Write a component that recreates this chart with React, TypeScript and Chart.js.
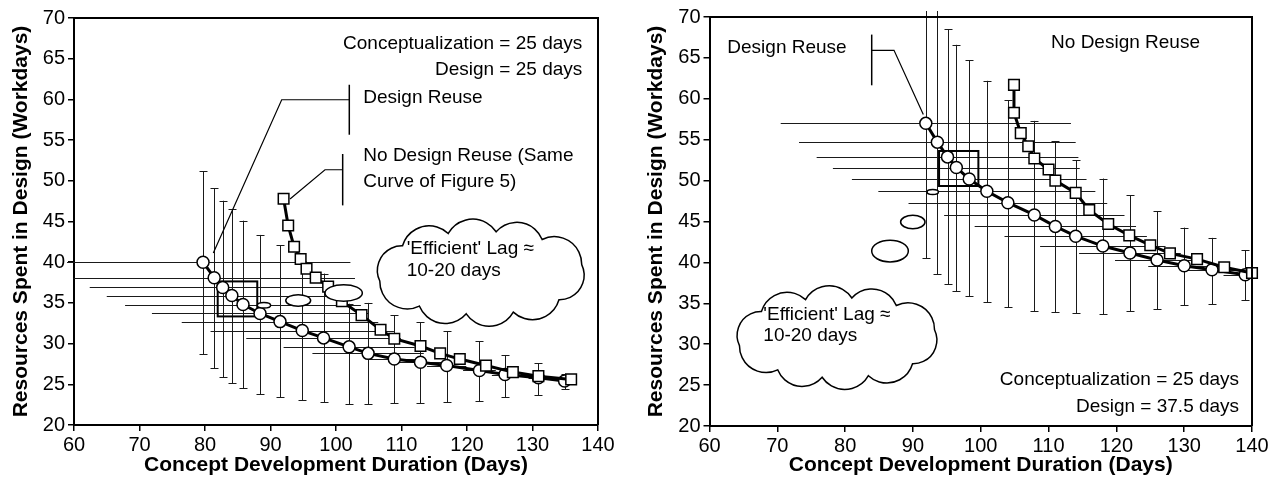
import React, { useEffect, useRef } from "react";
import { Chart, registerables } from "chart.js";
Chart.register(...registerables);

const FONT = "'Liberation Sans', Arial, Helvetica, sans-serif";

// Axis ticks (shared by both panels)
const xTickValues = [60, 70, 80, 90, 100, 110, 120, 130, 140];
const yTickValues = [20, 25, 30, 35, 40, 45, 50, 55, 60, 65, 70];

// ---------- Left panel: Conceptualization = 25 days, Design = 25 days ----------
const leftReuseDays = [79.7, 81.4, 82.7, 84.1, 85.8, 88.4, 91.45, 94.85, 98.1, 102.0, 104.9, 108.9, 112.9, 116.9, 121.9, 125.8, 130.9, 134.9];
const leftReuseRes = [40.0, 38.1, 36.9, 35.9, 34.8, 33.7, 32.7, 31.6, 30.7, 29.6, 28.8, 28.1, 27.7, 27.3, 26.7, 26.2, 25.8, 25.4];
const leftReuseResLow = [28.7, 27.0, 25.9, 25.2, 24.5, 23.85, 23.4, 23.1, 22.8, 22.6, 22.6, 22.7, 22.7, 22.8, 23.0, 23.5, 23.7, 24.4];
const leftReuseResHigh = [51.2, 49.1, 47.55, 46.5, 45.1, 43.35, 42.1, 40.1, 38.6, 34.9, 35.0, 33.5, 32.65, 31.5, 30.3, 28.6, 27.6, 26.3];
const leftReuseDaysErr = [22.5, 21.5, 20.3, 19.1, 18, 16.5, 15, 14, 11.8, 10, 8.5, 4, 3.5, 3, 2.5, 2, 1.5, 1];
const leftNoReuseDays = [92.0, 92.7, 93.6, 94.6, 95.5, 96.9, 98.8, 100.9, 103.9, 106.8, 108.9, 112.9, 115.9, 118.9, 122.9, 127.0, 130.9, 135.9];
const leftNoReuseRes = [47.8, 44.5, 41.9, 40.4, 39.2, 38.1, 37.0, 35.2, 33.5, 31.7, 30.6, 29.7, 28.8, 28.1, 27.3, 26.5, 26.0, 25.6];

// ---------- Right panel: Conceptualization = 25 days, Design = 37.5 days ----------
const rightReuseDays = [91.9, 93.6, 95.1, 96.4, 98.3, 100.9, 104.0, 107.9, 111.0, 114.0, 118.0, 122.0, 126.0, 130.0, 134.1, 139.0];
const rightReuseRes = [57.0, 54.7, 52.9, 51.6, 50.2, 48.7, 47.3, 45.8, 44.4, 43.2, 42.0, 41.15, 40.3, 39.6, 39.1, 38.5];
const rightReuseResLow = [40.5, 38.55, 37.3, 36.5, 35.85, 35.1, 34.6, 34.1, 33.9, 33.8, 33.75, 34.05, 34.35, 34.75, 34.95, 35.45];
const rightReuseResHigh = [73.5, 70.85, 68.5, 66.6, 64.7, 62.2, 59.8, 57.3, 54.8, 52.5, 50.25, 48.2, 46.25, 44.25, 43.0, 41.5];
const rightReuseDaysErr = [21.4, 20.4, 19.3, 18.2, 17.3, 16, 14.65, 13.3, 11.9, 10.5, 9.25, 7.5, 6.2, 5.3, 4, 3.2];
const rightNoReuseDays = [104.9, 104.9, 105.9, 107.0, 107.9, 110.0, 111.0, 114.0, 116.0, 118.8, 121.9, 125.0, 127.9, 131.9, 135.9, 140.0];
const rightNoReuseRes = [61.7, 58.3, 55.8, 54.2, 52.7, 51.35, 50.0, 48.5, 46.4, 44.7, 43.3, 42.1, 41.1, 40.4, 39.4, 38.7];

type TextItem = { x: number; y: number; text: string; align: CanvasTextAlign };
type Callout = { barX: number; barY1: number; barY2: number; elbowY: number; elbowX: number; tipX: number; tipY: number };
type Panel = {
  id: string;
  canvasLeft: number;
  canvasWidth: number;
  area: { left: number; right: number; top: number; bottom: number };
  reuseDays: number[];
  reuseRes: number[];
  reuseLow: number[];
  reuseHigh: number[];
  reuseDaysErr: number[];
  noReuseDays: number[];
  noReuseRes: number[];
  box: [number, number, number, number];
  ellipses: [number, number, number, number][];
  cloud: [number, number, number, number];
  callouts: Callout[];
  texts: TextItem[];
};

const leftPanel: Panel = {
  id: "left",
  canvasLeft: 0,
  canvasWidth: 635,
  area: { left: 74, right: 598, top: 18, bottom: 425 },
  reuseDays: leftReuseDays,
  reuseRes: leftReuseRes,
  reuseLow: leftReuseResLow,
  reuseHigh: leftReuseResHigh,
  reuseDaysErr: leftReuseDaysErr,
  noReuseDays: leftNoReuseDays,
  noReuseRes: leftNoReuseRes,
  box: [81.94, 87.98, 37.64, 33.34],
  ellipses: [
    [101.17, 36.22, 2.85, 1.02],
    [94.23, 35.3, 1.9, 0.71],
    [89.0, 34.72, 1.02, 0.34],
  ],
  cloud: [105.0, 139.2, 44.9, 32.5],
  callouts: [
    { barX: 102.03, barY1: 61.8, barY2: 55.66, elbowY: 59.96, elbowX: 91.71, tipX: 81.27, tipY: 41.13 },
    { barX: 101.02, barY1: 53.29, barY2: 46.98, elbowY: 51.36, elbowX: 98.32, tipX: 92.98, tipY: 47.76 },
  ],
  texts: [
    { x: 137.6, y: 66.8, text: "Conceptualization = 25 days", align: "right" },
    { x: 137.6, y: 63.7, text: "Design = 25 days", align: "right" },
    { x: 104.17, y: 60.17, text: "Design Reuse", align: "left" },
    { x: 104.17, y: 53.08, text: "No Design Reuse (Same", align: "left" },
    { x: 104.17, y: 49.93, text: "Curve of Figure 5)", align: "left" },
    { x: 110.8, y: 41.6, text: "'Efficient' Lag \u2248", align: "left" },
    { x: 110.8, y: 38.9, text: "10-20 days", align: "left" },
  ],
};

const rightPanel: Panel = {
  id: "right",
  canvasLeft: 635,
  canvasWidth: 642,
  area: { left: 74.5, right: 617, top: 17, bottom: 426 },
  reuseDays: rightReuseDays,
  reuseRes: rightReuseRes,
  reuseLow: rightReuseResLow,
  reuseHigh: rightReuseResHigh,
  reuseDaysErr: rightReuseDaysErr,
  noReuseDays: rightNoReuseDays,
  noReuseRes: rightNoReuseRes,
  box: [93.85, 99.65, 53.62, 49.34],
  ellipses: [
    [92.92, 48.6, 0.84, 0.31],
    [89.98, 44.94, 1.8, 0.82],
    [86.62, 41.38, 2.7, 1.32],
  ],
  cloud: [62.8, 94.8, 36.8, 24.8],
  callouts: [
    { barX: 83.92, barY1: 67.85, barY2: 61.65, elbowY: 65.93, elbowX: 87.21, tipX: 91.53, tipY: 58.07 },
  ],
  texts: [
    { x: 62.63, y: 66.2, text: "Design Reuse", align: "left" },
    { x: 110.37, y: 66.8, text: "No Design Reuse", align: "left" },
    { x: 138.1, y: 25.67, text: "Conceptualization = 25 days", align: "right" },
    { x: 138.1, y: 22.4, text: "Design = 37.5 days", align: "right" },
    { x: 67.94, y: 33.62, text: "'Efficient' Lag \u2248", align: "left" },
    { x: 67.94, y: 30.97, text: "10-20 days", align: "left" },
  ],
};

function drawCloud(ctx: CanvasRenderingContext2D, x0: number, x1: number, y0: number, y1: number) {
  const cx = (x0 + x1) / 2;
  const cy = (y0 + y1) / 2;
  const N = 10;
  const hRatio = 0.28;
  const inset = 9;
  const rx = (x1 - x0) / 2 - inset;
  const ry = (y1 - y0) / 2 - inset;
  const M = 720;
  const samples: [number, number][] = [];
  for (let i = 0; i <= M; i++) {
    const a = -Math.PI / 2 + (i / M) * Math.PI * 2 + 0.15;
    samples.push([cx + rx * Math.cos(a), cy + ry * Math.sin(a)]);
  }
  const cum = [0];
  for (let i = 1; i <= M; i++) {
    cum.push(cum[i - 1] + Math.hypot(samples[i][0] - samples[i - 1][0], samples[i][1] - samples[i - 1][1]));
  }
  const P = cum[M];
  const pts: [number, number][] = [];
  let j = 0;
  for (let k = 0; k < N; k++) {
    const target = (k / N) * P;
    while (j < M && cum[j + 1] < target) j++;
    pts.push(samples[j]);
  }
  ctx.beginPath();
  for (let k = 0; k < N; k++) {
    const p = pts[k];
    const q = pts[(k + 1) % N];
    const dx = q[0] - p[0];
    const dy = q[1] - p[1];
    const c = Math.hypot(dx, dy);
    const nx = dy / c;
    const ny = -dx / c;
    const h = hRatio * c;
    const R = (c * c / 4 + h * h) / (2 * h);
    const mx = (p[0] + q[0]) / 2;
    const my = (p[1] + q[1]) / 2;
    const ccx = mx - nx * (R - h);
    const ccy = my - ny * (R - h);
    const aP = Math.atan2(p[1] - ccy, p[0] - ccx);
    const aQ = Math.atan2(q[1] - ccy, q[0] - ccx);
    ctx.arc(ccx, ccy, R, aP, aQ, false);
  }
  ctx.closePath();
  ctx.fillStyle = "#fff";
  ctx.fill();
  ctx.lineWidth = 1.5;
  ctx.strokeStyle = "#000";
  ctx.stroke();
}

function makeDecor(p: Panel) {
  return {
    id: "decor-" + p.id,
    beforeDatasetsDraw(chart: any) {
      const { ctx, chartArea: ca } = chart;
      const X = (v: number) => chart.scales.x.getPixelForValue(v);
      const Y = (v: number) => chart.scales.y.getPixelForValue(v);
      ctx.save();
      ctx.strokeStyle = "#1a1a1a";
      ctx.lineWidth = 1;
      p.reuseDays.forEach((d, i) => {
        const yy = Math.round(Y(p.reuseRes[i])) + 0.5;
        const xa = Math.max(X(d - p.reuseDaysErr[i]), ca.left - 7);
        const xb = Math.min(X(d + p.reuseDaysErr[i]), ca.right);
        ctx.beginPath();
        ctx.moveTo(xa, yy);
        ctx.lineTo(xb, yy);
        ctx.stroke();
      });
      p.reuseDays.forEach((d, i) => {
        const xx = Math.round(X(d)) + 0.5;
        const top = Y(p.reuseHigh[i]);
        const bot = Math.round(Y(p.reuseLow[i])) + 0.5;
        const topC = Math.max(top, ca.top - 6);
        ctx.beginPath();
        ctx.moveTo(xx, topC);
        ctx.lineTo(xx, bot);
        ctx.moveTo(xx - 4, bot);
        ctx.lineTo(xx + 4, bot);
        if (top >= ca.top - 6) {
          const t = Math.round(top) + 0.5;
          ctx.moveTo(xx - 4, t);
          ctx.lineTo(xx + 4, t);
        }
        ctx.stroke();
      });
      const [bx0, bx1, by0, by1] = p.box;
      ctx.lineWidth = 2;
      ctx.strokeStyle = "#000";
      ctx.strokeRect(X(bx0), Y(by0), X(bx1) - X(bx0), Y(by1) - Y(by0));
      ctx.restore();
    },
    afterDatasetsDraw(chart: any) {
      const { ctx, chartArea: ca } = chart;
      const xs = chart.scales.x;
      const ys = chart.scales.y;
      const X = (v: number) => xs.getPixelForValue(v);
      const Y = (v: number) => ys.getPixelForValue(v);
      const pxPerX = Math.abs(X(1) - X(0));
      const pxPerY = Math.abs(Y(1) - Y(0));
      ctx.save();
      p.ellipses.forEach(([ex, ey, erx, ery]) => {
        ctx.beginPath();
        ctx.ellipse(X(ex), Y(ey), erx * pxPerX, ery * pxPerY, 0, 0, Math.PI * 2);
        ctx.fillStyle = "#fff";
        ctx.fill();
        ctx.lineWidth = 1.5;
        ctx.strokeStyle = "#000";
        ctx.stroke();
      });
      const [cx0, cx1, cy0, cy1] = p.cloud;
      drawCloud(ctx, X(cx0), X(cx1), Y(cy0), Y(cy1));
      ctx.strokeStyle = "#000";
      p.callouts.forEach((c) => {
        ctx.lineWidth = 1.5;
        ctx.beginPath();
        ctx.moveTo(X(c.barX), Y(c.barY1));
        ctx.lineTo(X(c.barX), Y(c.barY2));
        ctx.stroke();
        ctx.lineWidth = 1.2;
        ctx.beginPath();
        ctx.moveTo(X(c.barX), Y(c.elbowY));
        ctx.lineTo(X(c.elbowX), Y(c.elbowY));
        ctx.lineTo(X(c.tipX), Y(c.tipY));
        ctx.stroke();
      });
      ctx.fillStyle = "#000";
      ctx.font = `19px ${FONT}`;
      ctx.textBaseline = "middle";
      p.texts.forEach((t) => {
        ctx.textAlign = t.align;
        ctx.fillText(t.text, X(t.x), Y(t.y));
      });
      ctx.lineWidth = 2;
      ctx.strokeStyle = "#000";
      ctx.beginPath();
      ctx.moveTo(ca.left, ca.top);
      ctx.lineTo(ca.right, ca.top);
      ctx.lineTo(ca.right, ca.bottom);
      ctx.stroke();
      ctx.restore();
    },
  };
}

function buildConfig(p: Panel): any {
  const H = 489;
  const tickFont = { family: FONT, size: 20 };
  const titleFont = { family: FONT, size: 21, weight: "bold" as const };
  return {
    type: "scatter",
    data: {
      datasets: [
        {
          label: "No Design Reuse",
          data: p.noReuseDays.map((d, i) => ({ x: d, y: p.noReuseRes[i] })),
          showLine: true,
          borderColor: "#000",
          borderWidth: 3,
          pointStyle: "rect",
          pointRadius: 7.5,
          pointBackgroundColor: "#fff",
          pointBorderColor: "#000",
          pointBorderWidth: 1.5,
          clip: false,
        },
        {
          label: "Design Reuse",
          data: p.reuseDays.map((d, i) => ({ x: d, y: p.reuseRes[i] })),
          showLine: true,
          borderColor: "#000",
          borderWidth: 3,
          pointStyle: "circle",
          pointRadius: 6,
          pointBackgroundColor: "#fff",
          pointBorderColor: "#000",
          pointBorderWidth: 1.5,
          clip: false,
        },
      ],
    },
    options: {
      responsive: false,
      animation: false,
      devicePixelRatio: 1,
      events: [],
      layout: {
        padding: { left: 0, top: p.area.top, right: p.canvasWidth - p.area.right, bottom: 0 },
      },
      plugins: { legend: { display: false }, tooltip: { enabled: false }, title: { display: false } },
      scales: {
        x: {
          type: "linear",
          min: xTickValues[0],
          max: xTickValues[xTickValues.length - 1],
          ticks: { stepSize: xTickValues[1] - xTickValues[0], font: tickFont, color: "#000", padding: 2 },
          grid: { display: true, drawOnChartArea: false, drawTicks: true, tickLength: 6, color: "#000", lineWidth: 1.5 },
          border: { display: true, color: "#000", width: 2 },
          title: {
            display: true,
            text: "Concept Development Duration (Days)",
            font: titleFont,
            color: "#000",
            padding: { top: 0, bottom: 11 },
          },
          afterFit: (s: any) => {
            s.height = H - p.area.bottom;
          },
        },
        y: {
          type: "linear",
          min: yTickValues[0],
          max: yTickValues[yTickValues.length - 1],
          ticks: { stepSize: yTickValues[1] - yTickValues[0], font: tickFont, color: "#000", padding: 3 },
          grid: { display: true, drawOnChartArea: false, drawTicks: true, tickLength: 6, color: "#000", lineWidth: 1.5 },
          border: { display: true, color: "#000", width: 2 },
          title: {
            display: true,
            text: "Resources Spent in Design (Workdays)",
            font: titleFont,
            color: "#000",
            padding: { top: 9, bottom: 0 },
          },
          afterFit: (s: any) => {
            s.width = p.area.left;
          },
        },
      },
    },
    plugins: [makeDecor(p)],
  };
}

function PanelChart({ panel }: { panel: Panel }) {
  const ref = useRef<HTMLCanvasElement>(null);
  useEffect(() => {
    if (!ref.current) return;
    const chart = new Chart(ref.current, buildConfig(panel));
    return () => chart.destroy();
  }, [panel]);
  return (
    <canvas
      ref={ref}
      width={panel.canvasWidth}
      height={489}
      style={{ position: "absolute", left: panel.canvasLeft, top: 0, width: panel.canvasWidth, height: 489 }}
    />
  );
}

export default function App() {
  return (
    <div style={{ position: "fixed", left: 0, top: 0, width: 1277, height: 489, background: "#fff", overflow: "hidden" }}>
      <PanelChart panel={leftPanel} />
      <PanelChart panel={rightPanel} />
    </div>
  );
}
